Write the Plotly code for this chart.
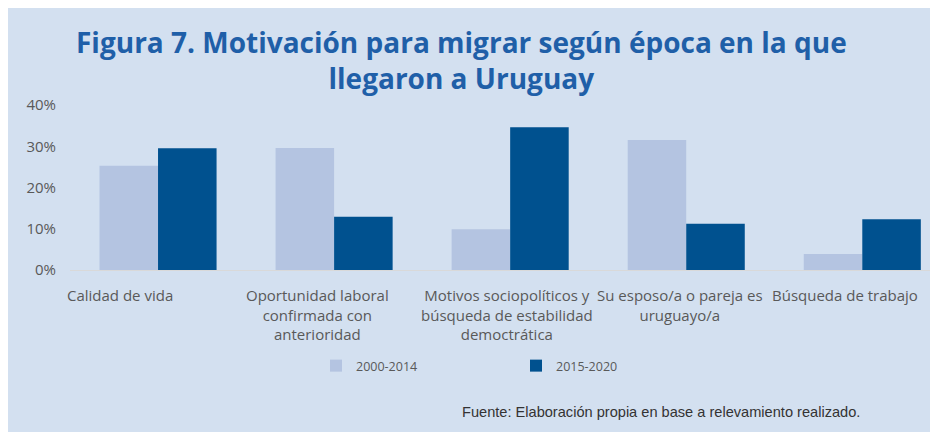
import plotly.graph_objects as go

# ── Data ──────────────────────────────────────────────────────────────────────

categories = [
    "Calidad de vida",
    "Oportunidad laboral<br>confirmada con<br>anterioridad",
    "Motivos sociopolíticos y<br>búsqueda de estabilidad<br>democtrática",
    "Su esposo/a o pareja es<br>uruguayo/a",
    "Búsqueda de trabajo",
]
series_names = ["2000-2014", "2015-2020"]
vals_2000_2014 = [0.253, 0.296, 0.099, 0.315, 0.039]
vals_2015_2020 = [0.295, 0.129, 0.346, 0.112, 0.123]
y_ticks = [0, 0.1, 0.2, 0.3, 0.4]
title = "Figura 7. Motivación para migrar según época en la que<br>llegaron a Uruguay"
source = "Fuente: Elaboración propia en base a relevamiento realizado."

COLORS = {
    "light": "#b4c4e1",
    "dark":  "#00518f",
    "panel": "#d3e0f0",
    "title": "#1f5fa8",
    "text":  "#595959",
}
FONT = "Open Sans, Noto Sans"

# the page body adds an 8px margin, so figure px = screen px - 8
OFF = 8
W, H = 930, 424
L, R, T, B = 70 - OFF, 0, 105 - OFF, 162
pw, ph = W - L - R, H - T - B


def px_x(px):
    return (px - OFF - L) / pw


def px_y(py):
    return (H - B - (py - OFF)) / ph


fig = go.Figure()
fig.add_trace(go.Bar(
    x=list(range(len(categories))), y=vals_2000_2014, name=series_names[0],
    marker=dict(color=COLORS["light"], line=dict(width=0)),
))
fig.add_trace(go.Bar(
    x=list(range(len(categories))), y=vals_2015_2020, name=series_names[1],
    marker=dict(color=COLORS["dark"], line=dict(width=0)),
))

# label offsets (px) to match the original's placement
label_shift = [-38, -17, -3, -6, -17]
for i, (cat, dx) in enumerate(zip(categories, label_shift)):
    fig.add_annotation(
        x=i, y=0, xref="x", yref="y", text=cat, showarrow=False,
        xanchor="center", yanchor="top", yshift=-13, xshift=dx,
        align="center",
        font=dict(family=FONT, size=15, color=COLORS["text"]),
    )

fig.add_annotation(
    x=px_x(461), y=px_y(60), xref="paper", yref="paper",
    text=f"<b>{title}</b>",
    showarrow=False, xanchor="center", yanchor="middle", align="center",
    font=dict(family=FONT, size=28, color=COLORS["title"]),
)

fig.add_annotation(
    x=px_x(862), y=px_y(412), xref="paper", yref="paper",
    text=source,
    showarrow=False, xanchor="right", yanchor="middle",
    font=dict(family="Liberation Sans, Arial", size=14.6, color="#333333"),
)

# white strip at the right edge of the panel
fig.add_shape(
    type="rect", xref="paper", yref="paper", layer="below",
    x0=px_x(935), x1=px_x(945), y0=px_y(0), y1=px_y(440),
    fillcolor="white", line=dict(width=0),
)

fig.update_layout(
    width=W, height=H,
    margin=dict(l=L, r=R, t=T, b=B),
    paper_bgcolor=COLORS["panel"],
    plot_bgcolor="rgba(0,0,0,0)",
    barmode="group", bargap=0.335, bargroupgap=0,
    font=dict(family=FONT, color=COLORS["text"]),
    showlegend=True,
    legend=dict(
        orientation="h", x=px_x(316), y=px_y(366), xanchor="left", yanchor="middle",
        bgcolor="rgba(0,0,0,0)", entrywidth=155, entrywidthmode="pixels",
        itemwidth=30,
        font=dict(family=FONT, size=12.5, color=COLORS["text"]),
    ),
    xaxis=dict(
        range=[-0.5, 4.43], showticklabels=False, showgrid=False,
        showline=True, linecolor="#d9d9d9", linewidth=1, zeroline=False,
        fixedrange=True,
    ),
    yaxis=dict(
        range=[0, 0.4], tickvals=y_ticks, tickformat=".0%", showgrid=False,
        zeroline=False, showline=False, ticks="", ticklabelstandoff=13,
        tickfont=dict(family=FONT, size=15, color=COLORS["text"]),
    ),
)

fig.write_html("out.html")
